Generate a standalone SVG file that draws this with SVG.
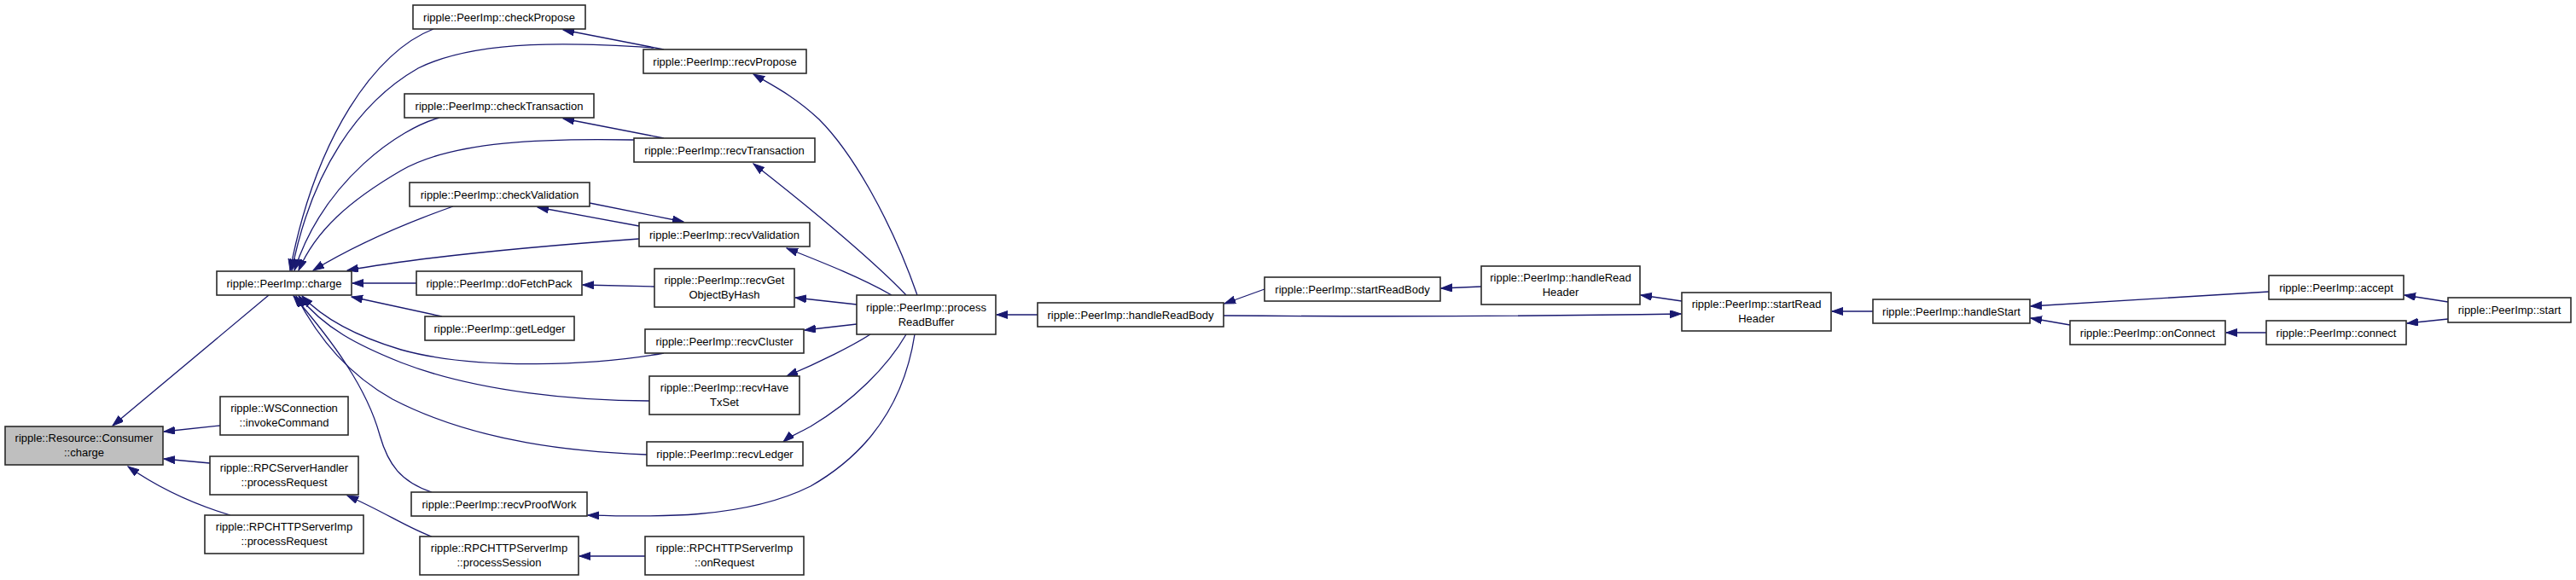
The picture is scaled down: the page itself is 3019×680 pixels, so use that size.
<svg xmlns="http://www.w3.org/2000/svg" width="3019" height="680" viewBox="0 0 3019 680">
<style>
.n rect{fill:#ffffff;stroke:#2a2a2a;stroke-width:1.6}
.n.g rect{fill:#bfbfbf}
.n text{font-family:"Liberation Sans",Arial,Helvetica,sans-serif;font-size:13px;fill:#000000;text-anchor:middle}
.e path{fill:none;stroke:#191970;stroke-width:1.3;marker-end:url(#ah)}
</style>
<defs>
<marker id="ah" markerUnits="userSpaceOnUse" markerWidth="14" markerHeight="10" refX="13" refY="4.5" orient="auto">
<path d="M0,0 L13,4.5 L0,9 z" fill="#191970" stroke="#191970" stroke-width="1"/>
</marker>
</defs>
<rect width="3019" height="680" fill="#ffffff"/>
<g id="edges" class="e">
<path d="M315,346 L132,499"/>
<path d="M258,499 L192,506"/>
<path d="M246,543 L192,538"/>
<path d="M270,604 C230,592 190,575 150,547"/>
<path d="M506,629 C480,620 450,600 407,581"/>
<path d="M756,652 L679,652"/>
<path d="M778,58 L660,35"/>
<path d="M778,162 L660,139"/>
<path d="M691,238 L801,260"/>
<path d="M749,265 L630,243"/>
<path d="M767,336 L683,334"/>
<path d="M508,34 C440,60 370,160 340,317"/>
<path d="M766,56 C680,50 560,45 490,80 C420,120 365,200 342,317"/>
<path d="M515,138 C470,150 380,210 345,317"/>
<path d="M743,164 C640,162 530,165 470,200 C410,235 370,270 350,317"/>
<path d="M531,242 C480,260 420,285 367,317"/>
<path d="M749,280 C640,288 500,300 407,317"/>
<path d="M488,332 L413,332"/>
<path d="M518,371 L412,348"/>
<path d="M778,414 C700,428 560,435 470,410 C420,395 380,375 354,347"/>
<path d="M761,470 C680,470 560,460 470,425 C420,405 380,385 350,347"/>
<path d="M758,533 C680,530 560,520 460,468 C410,440 375,400 347,347"/>
<path d="M506,577 C470,565 455,545 445,510 C430,455 390,400 344,347"/>
<path d="M1075,346 C1045,260 1000,180 960,140 C930,112 905,100 883,87"/>
<path d="M1062,346 C1030,312 960,252 883,192"/>
<path d="M1045,346 C1010,326 970,310 922,291"/>
<path d="M1004,357 L932,349"/>
<path d="M1004,380 L943,387"/>
<path d="M1020,392 C1000,405 960,425 922,441"/>
<path d="M1062,392 C1040,430 1000,470 950,500 C935,508 925,512 918,518"/>
<path d="M1072,392 C1060,470 1020,530 950,570 C870,610 760,606 689,604"/>
<path d="M1216,369 L1168,369"/>
<path d="M1482,339 L1435,356"/>
<path d="M1736,336 L1689,338"/>
<path d="M1434,370 C1700,372 1850,370 1970,368"/>
<path d="M1971,353 L1923,346"/>
<path d="M2195,365 L2147,365"/>
<path d="M2659,342 L2380,359"/>
<path d="M2426,381 L2380,373"/>
<path d="M2656,390 L2609,390"/>
<path d="M2869,354 L2818,346"/>
<path d="M2869,374 L2821,379"/>
</g>
<g id="consumer_charge" class="n g"><rect x="6" y="500" width="185" height="45"/><text x="98.5" y="518">ripple::Resource::Consumer</text><text x="98.5" y="535">::charge</text></g>
<g id="peerimp_charge" class="n"><rect x="254" y="318" width="158" height="28"/><text x="333" y="336.5">ripple::PeerImp::charge</text></g>
<g id="ws_invokeCommand" class="n"><rect x="258" y="465" width="150" height="45"/><text x="333" y="483">ripple::WSConnection</text><text x="333" y="500">::invokeCommand</text></g>
<g id="rpcserverhandler_processRequest" class="n"><rect x="246" y="535" width="174" height="45"/><text x="333" y="553">ripple::RPCServerHandler</text><text x="333" y="570">::processRequest</text></g>
<g id="rpchttp_processRequest" class="n"><rect x="240" y="604" width="186" height="45"/><text x="333" y="622">ripple::RPCHTTPServerImp</text><text x="333" y="639">::processRequest</text></g>
<g id="checkPropose" class="n"><rect x="484" y="6" width="202" height="28"/><text x="585" y="24.5">ripple::PeerImp::checkPropose</text></g>
<g id="recvPropose" class="n"><rect x="754" y="58" width="191" height="28"/><text x="849.5" y="76.5">ripple::PeerImp::recvPropose</text></g>
<g id="checkTransaction" class="n"><rect x="474" y="110" width="222" height="28"/><text x="585" y="128.5">ripple::PeerImp::checkTransaction</text></g>
<g id="recvTransaction" class="n"><rect x="743" y="162" width="212" height="28"/><text x="849" y="180.5">ripple::PeerImp::recvTransaction</text></g>
<g id="checkValidation" class="n"><rect x="480" y="214" width="211" height="28"/><text x="585.5" y="232.5">ripple::PeerImp::checkValidation</text></g>
<g id="recvValidation" class="n"><rect x="749" y="261" width="200" height="28"/><text x="849" y="279.5">ripple::PeerImp::recvValidation</text></g>
<g id="doFetchPack" class="n"><rect x="488" y="318" width="194" height="28"/><text x="585" y="336.5">ripple::PeerImp::doFetchPack</text></g>
<g id="recvGetObjectByHash" class="n"><rect x="767" y="315" width="164" height="45"/><text x="849" y="333">ripple::PeerImp::recvGet</text><text x="849" y="350">ObjectByHash</text></g>
<g id="getLedger" class="n"><rect x="498" y="371" width="175" height="28"/><text x="585.5" y="389.5">ripple::PeerImp::getLedger</text></g>
<g id="recvCluster" class="n"><rect x="756" y="386" width="186" height="28"/><text x="849" y="404.5">ripple::PeerImp::recvCluster</text></g>
<g id="recvHaveTxSet" class="n"><rect x="761" y="441" width="176" height="45"/><text x="849" y="459">ripple::PeerImp::recvHave</text><text x="849" y="476">TxSet</text></g>
<g id="recvLedger" class="n"><rect x="758" y="518" width="183" height="28"/><text x="849.5" y="536.5">ripple::PeerImp::recvLedger</text></g>
<g id="recvProofWork" class="n"><rect x="482" y="577" width="206" height="28"/><text x="585" y="595.5">ripple::PeerImp::recvProofWork</text></g>
<g id="processSession" class="n"><rect x="492" y="629" width="186" height="45"/><text x="585" y="647">ripple::RPCHTTPServerImp</text><text x="585" y="664">::processSession</text></g>
<g id="onRequest" class="n"><rect x="756" y="629" width="186" height="45"/><text x="849" y="647">ripple::RPCHTTPServerImp</text><text x="849" y="664">::onRequest</text></g>
<g id="processReadBuffer" class="n"><rect x="1004" y="346" width="163" height="46"/><text x="1085.5" y="364.5">ripple::PeerImp::process</text><text x="1085.5" y="381.5">ReadBuffer</text></g>
<g id="handleReadBody" class="n"><rect x="1216" y="355" width="218" height="28"/><text x="1325" y="373.5">ripple::PeerImp::handleReadBody</text></g>
<g id="startReadBody" class="n"><rect x="1482" y="325" width="206" height="28"/><text x="1585" y="343.5">ripple::PeerImp::startReadBody</text></g>
<g id="handleReadHeader" class="n"><rect x="1736" y="312" width="186" height="45"/><text x="1829" y="330">ripple::PeerImp::handleRead</text><text x="1829" y="347">Header</text></g>
<g id="startReadHeader" class="n"><rect x="1971" y="343" width="175" height="45"/><text x="2058.5" y="361">ripple::PeerImp::startRead</text><text x="2058.5" y="378">Header</text></g>
<g id="handleStart" class="n"><rect x="2195" y="351" width="184" height="28"/><text x="2287" y="369.5">ripple::PeerImp::handleStart</text></g>
<g id="accept" class="n"><rect x="2659" y="323" width="158" height="28"/><text x="2738" y="341.5">ripple::PeerImp::accept</text></g>
<g id="start" class="n"><rect x="2869" y="349" width="144" height="29"/><text x="2941" y="368">ripple::PeerImp::start</text></g>
<g id="onConnect" class="n"><rect x="2426" y="376" width="182" height="28"/><text x="2517" y="394.5">ripple::PeerImp::onConnect</text></g>
<g id="connect" class="n"><rect x="2656" y="376" width="164" height="28"/><text x="2738" y="394.5">ripple::PeerImp::connect</text></g>
</svg>
